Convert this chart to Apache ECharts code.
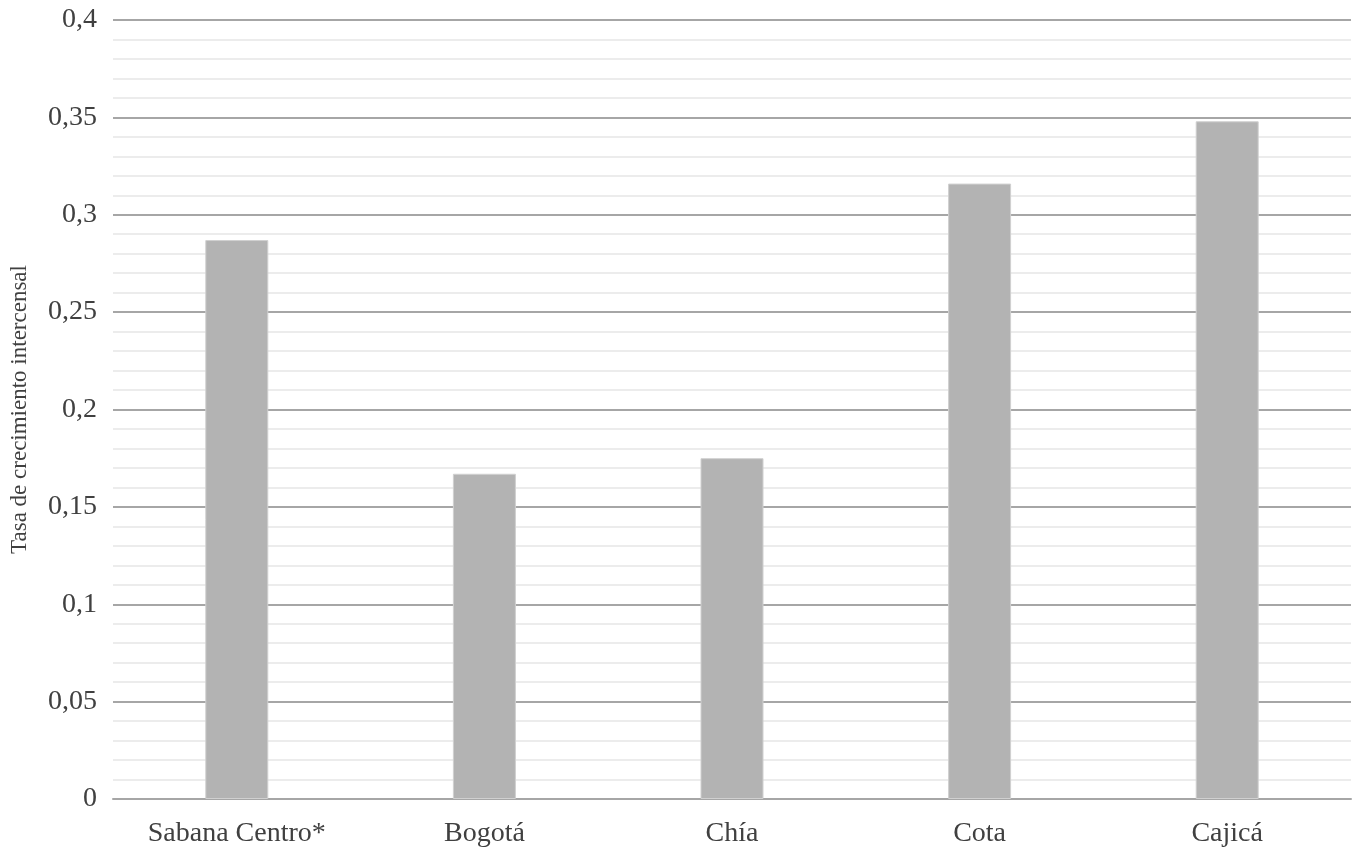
<!DOCTYPE html>
<html lang="es">
<head>
    <meta charset="UTF-8">
    <title>Tasa de crecimiento intercensal</title>
    <script src="https://cdn.jsdelivr.net/npm/echarts@6/dist/echarts.min.js"></script>
    <style>
        html, body { margin: 0; padding: 0; background: #fff; }
        #chart { width: 1357px; height: 853px; }
    </style>
</head>
<body>
<div id="chart"></div>
<script>
    // datos
    var municipios = ['Sabana Centro*', 'Bogotá', 'Chía', 'Cota', 'Cajicá'];
    var tasas = [0.287, 0.167, 0.175, 0.316, 0.348];
    var ejeTitulo = 'Tasa de crecimiento intercensal';

    var fuente = '"Liberation Serif", "DejaVu Serif", serif';
    var chart = echarts.init(document.getElementById('chart'));

    chart.setOption({
        animation: false,
        grid: { left: 113, right: 6, top: 20, bottom: 54, containLabel: false, outerBoundsMode: 'none' },
        xAxis: {
            type: 'category',
            data: municipios,
            axisLine: { lineStyle: { color: '#a6a6a6', width: 2 } },
            axisTick: { show: false },
            axisLabel: { color: '#404040', fontFamily: fuente, fontSize: 28, margin: 21 }
        },
        yAxis: {
            type: 'value',
            min: 0,
            max: 0.4,
            interval: 0.05,
            name: ejeTitulo,
            nameLocation: 'middle',
            nameGap: 82,
            nameTextStyle: { color: '#404040', fontFamily: fuente, fontSize: 23 },
            axisLine: { show: false },
            axisTick: { show: false },
            axisLabel: {
                color: '#404040',
                fontFamily: fuente,
                fontSize: 28,
                margin: 16,
                formatter: function (v) {
                    return String(Math.round(v * 100) / 100).replace('.', ',');
                }
            },
            splitLine: { lineStyle: { color: '#a6a6a6', width: 2 } },
            minorTick: { show: false, splitNumber: 5 },
            minorSplitLine: { show: true, lineStyle: { color: '#e6e6e6', width: 1.5 } }
        },
        series: [{
            type: 'bar',
            data: tasas,
            barWidth: 63,
            itemStyle: { color: '#b3b3b3', borderColor: '#d0d0d0', borderWidth: 1 }
        }]
    });
</script>
</body>
</html>
